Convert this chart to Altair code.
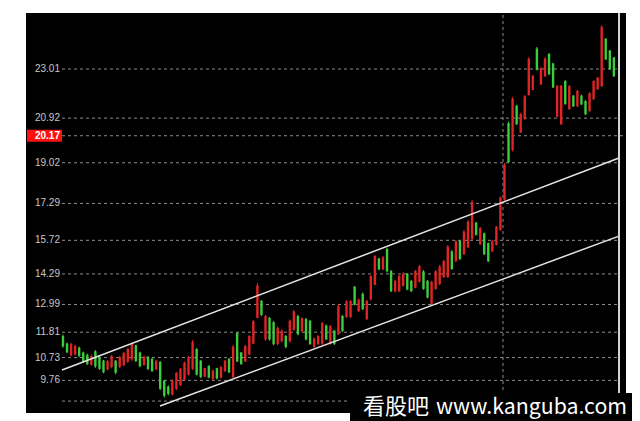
import altair as alt
import pandas as pd

# ---- candle data ----
open_ = [11.65, 11.33, 10.82, 10.86, 11.15, 10.95, 10.85, 10.42, 11.00, 10.75,
         10.60, 10.22, 10.32, 10.60, 10.32, 10.40, 10.55, 10.65, 11.25, 10.95,
         10.42, 10.76, 10.68, 10.22, 10.55, 9.75, 9.50, 9.15, 9.40, 9.55,
         9.78, 10.00, 10.25, 11.10, 10.60, 9.92, 10.38, 9.82, 10.28, 9.88,
         10.15, 10.68, 9.90, 11.78, 10.95, 10.56, 10.86, 11.32, 12.42, 13.15,
         11.50, 12.42, 12.24, 11.30, 11.42, 11.65, 11.42, 11.90, 12.50, 11.85,
         12.38, 12.30, 11.18, 11.30, 11.32, 12.10, 11.32, 11.88, 11.72, 12.50,
         12.45, 12.45, 13.75, 12.70, 13.45, 12.36, 13.20, 13.82, 14.95, 14.48,
         15.35, 14.42, 13.55, 13.55, 13.78, 14.30, 14.00, 13.70, 13.95, 14.40,
         14.00, 13.02, 13.65, 13.85, 14.15, 14.15, 15.25, 14.82, 15.70, 15.12,
         15.42, 15.78, 16.48, 15.55, 16.02, 15.60, 15.25, 15.52, 16.16, 17.44,
         20.70, 19.56, 21.45, 20.30, 20.88, 21.90, 22.12, 23.88, 22.35, 22.70,
         23.65, 23.25, 20.98, 20.65, 22.50, 21.30, 21.88, 21.42, 21.88, 21.65,
         21.22, 21.72, 22.15, 22.28, 24.30, 23.80, 23.50]
high = [11.72, 11.37, 11.37, 11.28, 11.20, 10.99, 10.90, 10.86, 11.05, 10.80,
        10.63, 10.63, 10.85, 10.63, 10.80, 10.97, 11.14, 11.37, 11.28, 10.98,
        10.82, 10.80, 10.72, 10.63, 10.58, 9.78, 9.55, 9.80, 10.12, 10.29,
        10.56, 10.80, 11.48, 11.14, 10.63, 10.30, 10.40, 10.22, 10.30, 10.38,
        10.63, 10.71, 11.27, 11.82, 10.97, 11.27, 11.69, 12.33, 13.90, 13.18,
        12.54, 12.45, 12.28, 12.05, 11.92, 11.69, 12.35, 12.76, 12.55, 12.45,
        12.42, 12.33, 11.58, 11.69, 12.24, 12.14, 12.12, 11.90, 12.97, 12.54,
        13.18, 13.18, 13.78, 13.25, 13.50, 13.18, 14.25, 15.10, 14.97, 15.06,
        15.40, 14.46, 14.03, 14.25, 14.37, 14.33, 14.03, 14.46, 14.67, 14.46,
        14.03, 14.00, 14.46, 14.67, 14.88, 15.52, 15.31, 15.73, 15.73, 16.16,
        16.58, 17.44, 16.50, 16.28, 16.05, 15.63, 15.73, 16.33, 17.58, 19.01,
        20.78, 21.82, 21.48, 21.14, 21.90, 23.52, 22.76, 23.95, 23.10, 23.52,
        23.69, 23.27, 22.33, 22.33, 22.54, 22.33, 21.90, 22.12, 21.92, 21.69,
        22.03, 22.54, 22.67, 24.88, 24.33, 23.82, 23.52]
low = [11.15, 10.92, 10.78, 10.82, 10.74, 10.50, 10.42, 10.38, 10.29, 10.20,
       10.06, 10.18, 10.28, 10.02, 10.28, 10.36, 10.50, 10.60, 10.54, 10.32,
       10.38, 10.20, 10.12, 10.20, 9.35, 9.03, 9.12, 9.12, 9.35, 9.52,
       9.75, 9.97, 10.20, 9.97, 9.85, 9.90, 9.85, 9.77, 9.80, 9.84,
       10.12, 10.07, 9.86, 10.54, 10.42, 10.54, 10.84, 11.30, 12.40, 12.50,
       11.45, 11.45, 11.25, 11.25, 11.38, 11.12, 11.38, 11.88, 11.68, 11.80,
       11.46, 11.27, 11.14, 11.27, 11.27, 11.48, 11.27, 11.27, 11.69, 11.82,
       12.42, 12.42, 12.95, 12.67, 12.76, 12.33, 13.15, 13.80, 14.45, 14.45,
       14.35, 13.52, 13.50, 13.52, 13.75, 13.60, 13.52, 13.68, 13.92, 13.61,
       13.25, 12.97, 13.61, 13.82, 14.12, 14.12, 14.46, 14.80, 14.88, 15.10,
       15.40, 15.73, 15.92, 15.52, 15.10, 14.80, 15.22, 15.50, 16.12, 17.40,
       19.01, 19.50, 20.63, 20.28, 20.84, 21.88, 22.10, 22.95, 22.33, 22.67,
       22.76, 22.20, 20.96, 20.63, 21.48, 21.27, 21.39, 21.39, 21.48, 21.05,
       21.18, 21.69, 22.12, 22.24, 23.39, 22.97, 22.67]
close = [11.20, 10.95, 11.30, 11.22, 10.80, 10.55, 10.45, 10.80, 10.35, 10.25,
         10.10, 10.58, 10.80, 10.08, 10.76, 10.93, 11.10, 11.30, 10.58, 10.36,
         10.78, 10.24, 10.15, 10.60, 9.40, 9.10, 9.18, 9.75, 10.08, 10.25,
         10.52, 10.75, 11.40, 10.00, 9.90, 10.28, 9.88, 10.18, 9.84, 10.33,
         10.60, 10.10, 11.20, 10.56, 10.45, 11.22, 11.65, 12.28, 13.80, 12.55,
         12.50, 11.50, 11.30, 12.00, 11.88, 11.18, 12.30, 12.70, 11.72, 12.40,
         11.50, 11.30, 11.55, 11.65, 12.20, 11.50, 12.08, 11.30, 12.92, 11.85,
         13.12, 13.14, 12.98, 13.20, 12.78, 13.15, 14.20, 15.05, 14.48, 15.00,
         14.40, 13.55, 14.00, 14.20, 14.30, 13.62, 13.55, 14.42, 14.62, 13.65,
         13.28, 13.95, 14.40, 14.60, 14.85, 15.45, 14.50, 15.68, 14.92, 16.10,
         16.52, 17.35, 15.95, 16.25, 15.12, 14.82, 15.70, 16.30, 17.55, 18.95,
         19.05, 21.75, 20.65, 21.10, 21.85, 23.45, 22.72, 22.98, 23.05, 23.45,
         22.78, 22.22, 22.30, 22.30, 21.52, 22.28, 21.42, 22.08, 21.50, 21.08,
         21.98, 22.50, 22.65, 24.80, 23.42, 23.00, 22.70]

# ---- price grid and labels ----
grid_values = [23.01, 20.92, 19.02, 17.29, 15.72, 14.29, 12.99, 11.81, 10.73, 9.76, 8.88]
grid_labels = ["23.01", "20.92", "19.02", "17.29", "15.72", "14.29", "12.99",
               "11.81", "10.73", "9.76", ""]
current_price = 20.17
current_label = "20.17"

# ---- trend channel (index, price) ----
upper_idx = [-0.24, 137.27]
upper_price = [10.20, 19.22]
lower_idx = [23.95, 137.27]
lower_price = [8.67, 15.90]
marker_idx = 108.63
border_idx = 137.27

wm_cjk = "看股吧"
wm_latin = "www.kanguba.com"

X_DOMAIN = [-9.13, 139.0]
Y_DOMAIN = [8.372, 25.393]

RED = "#e02424"
GREEN = "#3dcc3d"
GRID = "#8e8e8e"

xs = alt.Scale(domain=X_DOMAIN, nice=False, zero=False)
ys = alt.Scale(domain=Y_DOMAIN, nice=False, zero=False)

candles = pd.DataFrame({
    "i": list(range(len(open_))),
    "open": open_, "high": high, "low": low, "close": close,
})
candles["dir"] = ["up" if c >= o else "down" for o, c in zip(open_, close)]

grid_df = pd.DataFrame({"value": grid_values, "label": grid_labels})
cur_df = pd.DataFrame({"value": [current_price], "label": [current_label]})
trend_df = pd.DataFrame({
    "i": upper_idx + lower_idx,
    "price": upper_price + lower_price,
    "line": ["upper", "upper", "lower", "lower"],
})
one = pd.DataFrame({"a": [0]})

grid = alt.Chart(grid_df).mark_rule(color=GRID, strokeDash=[3, 3], strokeWidth=1).encode(
    y=alt.Y("value:Q", scale=ys, axis=None),
    x=alt.value(36), x2=alt.value(591),
)
cur_line = alt.Chart(cur_df).mark_rule(color=GRID, strokeDash=[3, 3], strokeWidth=1).encode(
    y=alt.Y("value:Q", scale=ys, axis=None),
    x=alt.value(36), x2=alt.value(600),
)
vline = alt.Chart(one).mark_rule(color=GRID, strokeDash=[3, 3], strokeWidth=1).encode(
    x=alt.X(datum=marker_idx, scale=xs, axis=None),
    y=alt.value(2), y2=alt.value(400),
)

color = alt.Color("dir:N", scale=alt.Scale(domain=["up", "down"], range=[RED, GREEN]), legend=None)
wick = alt.Chart(candles).mark_rule(strokeWidth=1).encode(
    x=alt.X("i:Q", scale=xs, axis=None),
    y=alt.Y("low:Q", scale=ys, axis=None),
    y2="high:Q",
    color=color,
)
body = alt.Chart(candles).mark_rule(strokeWidth=2.4).encode(
    x=alt.X("i:Q", scale=xs, axis=None),
    y=alt.Y("open:Q", scale=ys, axis=None),
    y2="close:Q",
    color=color,
)
trend = alt.Chart(trend_df).mark_line(color="#e6e6e6", strokeWidth=1.5).encode(
    x=alt.X("i:Q", scale=xs, axis=None),
    y=alt.Y("price:Q", scale=ys, axis=None),
    detail="line:N",
)
border = alt.Chart(one).mark_rule(color="#d4d4d4", strokeWidth=2).encode(
    x=alt.X(datum=border_idx, scale=xs, axis=None),
    y=alt.value(0), y2=alt.value(400),
)
labels = alt.Chart(grid_df).mark_text(
    align="right", baseline="middle", font="Liberation Sans", fontSize=10, color="#c8c8c8"
).encode(
    y=alt.Y("value:Q", scale=ys, axis=None),
    x=alt.value(34),
    text="label:N",
)
cur_box = alt.Chart(cur_df).mark_rule(color="#ff1010", strokeWidth=12, strokeCap="butt").encode(
    y=alt.Y("value:Q", scale=ys, axis=None),
    x=alt.value(1), x2=alt.value(36),
)
cur_text = alt.Chart(cur_df).mark_text(
    align="right", baseline="middle", font="Liberation Sans", fontSize=10,
    color="white", fontWeight="bold",
).encode(
    y=alt.Y("value:Q", scale=ys, axis=None),
    x=alt.value(34),
    text="label:N",
)
wm_box = alt.Chart(one).mark_rect(color="black").encode(
    x=alt.value(324), x2=alt.value(606), y=alt.value(380), y2=alt.value(408),
)
wm_text1 = alt.Chart(one).mark_text(
    align="left", baseline="alphabetic", font="Noto Sans CJK SC", fontSize=22, color="white"
).encode(
    x=alt.value(337), y=alt.value(401), text=alt.value(wm_cjk),
)
wm_text2 = alt.Chart(one).mark_text(
    align="left", baseline="alphabetic", font="Noto Sans CJK SC", fontSize=21.3, color="white"
).encode(
    x=alt.value(410), y=alt.value(401), text=alt.value(wm_latin),
)

chart = alt.layer(
    grid, cur_line, vline, wick, body, trend, border, labels, cur_box, cur_text,
    wm_box, wm_text1, wm_text2
).properties(
    width=600, height=400,
    autosize=alt.AutoSizeParams(type="none"),
    padding={"left": 18, "top": 5, "right": 6, "bottom": 8},
    background="white",
).configure_view(fill="black", stroke=None)

chart.save("out.html", embed_options={"renderer": "svg", "actions": False})
